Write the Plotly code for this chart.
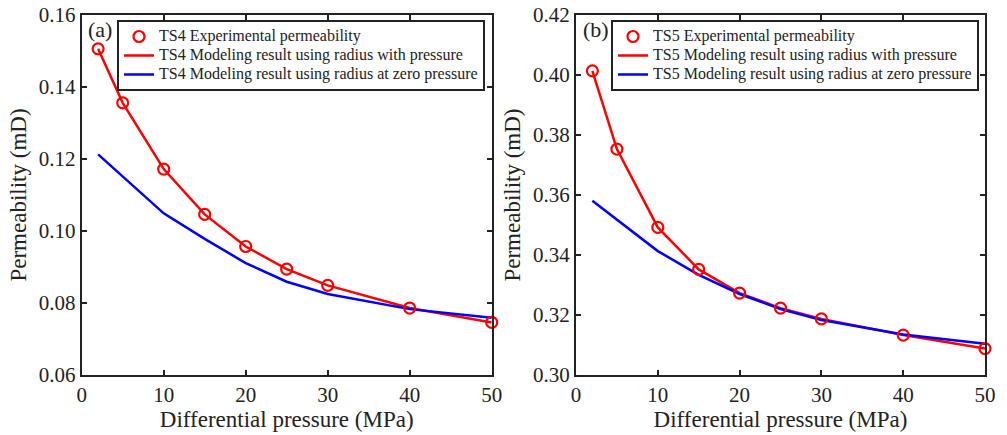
import plotly.graph_objects as go

pressure = [2, 5, 10, 15, 20, 25, 30, 40, 50]

ts4_exp = [0.1506, 0.1356, 0.1172, 0.1046, 0.0957, 0.0894, 0.0849, 0.0786, 0.0746]
ts4_model_p = [0.1506, 0.1356, 0.1172, 0.1046, 0.0957, 0.0894, 0.0849, 0.0786, 0.0746]
ts4_model_0 = [0.1213, 0.1151, 0.1049, 0.0978, 0.0911, 0.0859, 0.0825, 0.0783, 0.0759]

ts5_exp = [0.4014, 0.3753, 0.3492, 0.3352, 0.3273, 0.3223, 0.3187, 0.3133, 0.3088]
ts5_model_p = [0.4014, 0.3753, 0.3492, 0.3352, 0.3273, 0.3223, 0.3187, 0.3133, 0.3088]
ts5_model_0 = [0.3581, 0.3517, 0.3413, 0.3334, 0.3270, 0.3220, 0.3183, 0.3135, 0.3104]

x_ticks = [0, 10, 20, 30, 40, 50]
y_ticks_a = [0.06, 0.08, 0.10, 0.12, 0.14, 0.16]
y_ticks_b = [0.30, 0.32, 0.34, 0.36, 0.38, 0.40, 0.42]

RED = "#ff0000"
BLUE = "#0000ff"
FONT = "Liberation Serif"

fig = go.Figure()

def lg(t):
    return f"<span style='font-size:16px'>{t}</span>"

def add_panel(name, exp, mp, m0, xa, ya, legend):
    fig.add_trace(go.Scatter(x=pressure, y=mp, mode="lines", line=dict(color=RED, width=2.5),
                             showlegend=False, xaxis=xa, yaxis=ya))
    fig.add_trace(go.Scatter(x=pressure, y=m0, mode="lines", line=dict(color=BLUE, width=2.5),
                             showlegend=False, xaxis=xa, yaxis=ya))
    fig.add_trace(go.Scatter(x=pressure, y=exp, mode="markers",
                             marker=dict(symbol="circle-open", size=11, color=RED, line=dict(width=2.2, color=RED)),
                             name=lg(f"{name} Experimental permeability"), legend=legend,
                             xaxis=xa, yaxis=ya, cliponaxis=False))
    fig.add_trace(go.Scatter(x=[None], y=[None], mode="lines", line=dict(color=RED, width=2.5),
                             name=lg(f"{name} Modeling result using radius with pressure"), legend=legend,
                             xaxis=xa, yaxis=ya))
    fig.add_trace(go.Scatter(x=[None], y=[None], mode="lines", line=dict(color=BLUE, width=2.5),
                             name=lg(f"{name} Modeling result using radius at zero pressure"), legend=legend,
                             xaxis=xa, yaxis=ya))

add_panel("TS4", ts4_exp, ts4_model_p, ts4_model_0, "x", "y", "legend")
add_panel("TS5", ts5_exp, ts5_model_p, ts5_model_0, "x2", "y2", "legend2")

W, H = 1007, 435
ytop = 1 - 15 / H
ybot = 1 - 375 / H

axis_common = dict(showline=True, linewidth=2, linecolor="#222", mirror="ticks",
                   ticks="inside", ticklen=5, tickwidth=2, tickcolor="#222",
                   showgrid=False, zeroline=False, automargin=False,
                   tickfont=dict(family=FONT, size=21, color="#222"))
title_font = dict(family=FONT, size=23, color="#222")

legend_common = dict(yanchor="top", xanchor="right", bgcolor="white", bordercolor="#222", borderwidth=2,
                     font=dict(family=FONT, size=12, color="#222"), itemwidth=30, tracegroupgap=0)

fig.update_layout(
    width=W, height=H,
    margin=dict(l=0, r=0, t=0, b=0, autoexpand=False),
    paper_bgcolor="white", plot_bgcolor="white",
    font=dict(family=FONT, color="#222"),
    xaxis=dict(domain=[81.7 / W, 491.7 / W], range=[0, 50], tickvals=x_ticks, anchor="y",
               title=dict(text="Differential pressure (MPa)", font=title_font, standoff=4), **axis_common),
    yaxis=dict(domain=[ybot, ytop], range=[0.06, 0.16], tickvals=y_ticks_a, tickformat=".2f", anchor="x",
               title=dict(text="Permeability (mD)", font=title_font, standoff=6), **axis_common),
    xaxis2=dict(domain=[576 / W, 985 / W], range=[0, 50], tickvals=x_ticks, anchor="y2",
                title=dict(text="Differential pressure (MPa)", font=title_font, standoff=4), **axis_common),
    yaxis2=dict(domain=[ybot, ytop], range=[0.30, 0.42], tickvals=y_ticks_b, tickformat=".2f", anchor="x2",
                title=dict(text="Permeability (mD)", font=title_font, standoff=6), **axis_common),
    legend=dict(x=485 / W, y=1 - 20 / H, **legend_common),
    legend2=dict(x=979 / W, y=1 - 20 / H, **legend_common),
    annotations=[
        dict(text="(a)", x=86 / W, y=1 - 15 / H, xref="paper", yref="paper", xanchor="left", yanchor="top",
             showarrow=False, font=dict(family=FONT, size=22, color="#222")),
        dict(text="(b)", x=581 / W, y=1 - 15 / H, xref="paper", yref="paper", xanchor="left", yanchor="top",
             showarrow=False, font=dict(family=FONT, size=22, color="#222")),
    ],
)

fig.write_html("out.html")
